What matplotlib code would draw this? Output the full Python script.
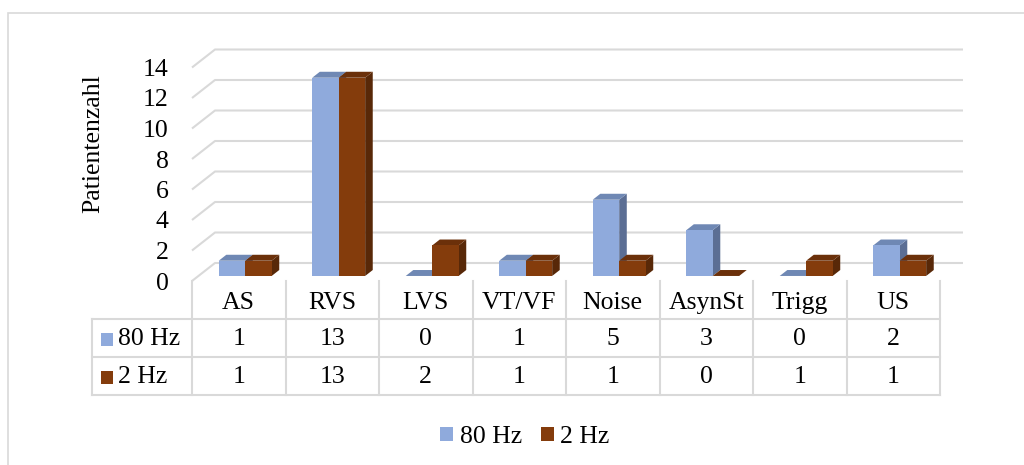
import matplotlib
matplotlib.use("Agg")
import matplotlib.pyplot as plt
from matplotlib.patches import Polygon, Rectangle, Patch
from matplotlib.lines import Line2D
from matplotlib.transforms import blended_transform_factory

categories = ["AS", "RVS", "LVS", "VT/VF", "Noise", "AsynSt", "Trigg", "US"]
series_names = ["80 Hz", "2 Hz"]
values_80hz = [1, 13, 0, 1, 5, 3, 0, 2]
values_2hz = [1, 13, 2, 1, 1, 0, 1, 1]
y_ticks = [0, 2, 4, 6, 8, 10, 12, 14]
y_label = "Patientenzahl"

W, H = 1024, 465
FONT = "Liberation Serif"
FS = 18.5
GRID = "#D9D9D9"
face_cols = [("#8FAADC", "#6F88B4", "#5B6E94"), ("#843C0C", "#6B300A", "#582808")]

def fx(x):
    return x / W

def fy(y):
    return 1 - y / H

fig = plt.figure(figsize=(W / 100, H / 100), dpi=100)
fig.patch.set_facecolor("white")

# outer chart border
fig.add_artist(Rectangle((fx(8), fy(470)), fx(1030) - fx(8), fy(13) - fy(470),
                         transform=fig.transFigure, fill=False, edgecolor=GRID, lw=1.2))

col_px = 93.5
unit_px = 15.25
ax_left, ax_right, ax_bottom, ax_top = 192, 966, 281, 45
ax = fig.add_axes([fx(ax_left), fy(ax_bottom), fx(ax_right) - fx(ax_left), fy(ax_top) - fy(ax_bottom)])
ax.set_xlim(0, (ax_right - ax_left) / col_px)
ax.set_ylim(0, (ax_bottom - ax_top) / unit_px)
ax.patch.set_alpha(0)
for s in ax.spines.values():
    s.set_visible(False)
ax.set_xticks([])
ax.set_yticks(y_ticks)
ax.set_yticklabels([str(t) for t in y_ticks], fontfamily=FONT, fontsize=FS)
ax.tick_params(axis="y", length=0, pad=17)
ax.set_ylabel(y_label, fontfamily=FONT, fontsize=FS)
ax.yaxis.set_label_coords((104 - ax_left) / (ax_right - ax_left), (ax_bottom - 144) / (ax_bottom - ax_top))

n = len(categories)
Dx = 23 / col_px       # full depth offset in x data units
Dy = 18 / unit_px      # full depth offset in y data units

# back wall + floor gridlines
for t in y_ticks:
    ax.plot([0, Dx, n + Dx], [t, t + Dy, t + Dy], color=GRID, lw=1.5,
            solid_capstyle="butt", clip_on=False, zorder=1)

# bars
f0, f1 = 0.28, 0.61
bw = 0.283
for si, vals in enumerate([values_80hz, values_2hz]):
    front, top, side = face_cols[si]
    for i, v in enumerate(vals):
        x0 = i + 0.5 - bw + si * bw
        x1 = x0 + bw
        ox0, oy0 = f0 * Dx, f0 * Dy
        ox1, oy1 = f1 * Dx, f1 * Dy
        # side face
        ax.add_patch(Polygon([(x1 + ox0, oy0), (x1 + ox1, oy1), (x1 + ox1, v + oy1), (x1 + ox0, v + oy0)],
                             closed=True, facecolor=side, edgecolor="none", zorder=2, clip_on=False))
        # top face
        ax.add_patch(Polygon([(x0 + ox0, v + oy0), (x1 + ox0, v + oy0), (x1 + ox1, v + oy1), (x0 + ox1, v + oy1)],
                             closed=True, facecolor=top, edgecolor="none", zorder=2, clip_on=False))
        # front face
        if v > 0:
            ax.add_patch(Polygon([(x0 + ox0, oy0), (x1 + ox0, oy0), (x1 + ox0, v + oy0), (x0 + ox0, v + oy0)],
                                 closed=True, facecolor=front, edgecolor="none", zorder=2, clip_on=False))

# data table
bt = blended_transform_factory(ax.transData, fig.transFigure)
row_lines = [318.5, 357, 395]
left_x = (92 - ax_left) / col_px
for i in range(n + 1):
    fig.add_artist(Line2D([i, i], [fy(281), fy(395)], transform=bt, color=GRID, lw=1.5))
fig.add_artist(Line2D([left_x, left_x], [fy(318.5), fy(395)], transform=bt, color=GRID, lw=1.5))
for ry in row_lines:
    fig.add_artist(Line2D([left_x, n], [fy(ry), fy(ry)], transform=bt, color=GRID, lw=1.5))

for i, c in enumerate(categories):
    ax.text(i + 0.5, fy(303), c, transform=bt, fontfamily=FONT, fontsize=FS, ha="center", va="center")

row_centers = [339, 377]
for si, vals in enumerate([values_80hz, values_2hz]):
    yc = row_centers[si]
    for i, v in enumerate(vals):
        ax.text(i + 0.5, fy(yc), str(v), transform=bt, fontfamily=FONT, fontsize=FS, ha="center", va="center")
    fig.add_artist(Rectangle((fx(101), fy(yc + 6.5)), fx(113) - fx(101), fy(yc - 6.5) - fy(yc + 6.5),
                             transform=fig.transFigure, facecolor=face_cols[si][0], edgecolor="none"))
    fig.text(fx(118), fy(yc), series_names[si], fontfamily=FONT, fontsize=FS, ha="left", va="center")

# legend
handles = [Patch(facecolor=face_cols[0][0], edgecolor="none"),
           Patch(facecolor=face_cols[1][0], edgecolor="none")]
fig.legend(handles, series_names, loc="center", bbox_to_anchor=(fx(525), fy(437)), ncol=2,
           frameon=False, prop={"family": FONT, "size": FS}, handlelength=0.5, handleheight=0.5,
           handletextpad=0.25, columnspacing=0.75, borderpad=0)

fig.savefig("out.png", dpi=100)
